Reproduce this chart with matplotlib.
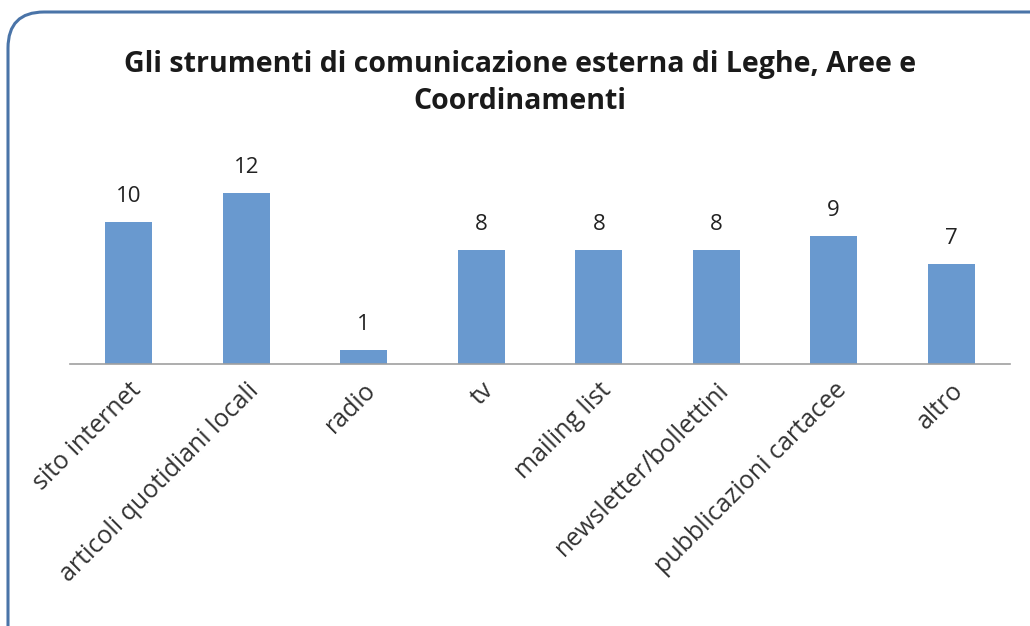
import matplotlib.pyplot as plt
from matplotlib.patches import FancyBboxPatch

categories = ['sito internet', 'articoli quotidiani locali', 'radio', 'tv',
              'mailing list', 'newsletter/bollettini', 'pubblicazioni cartacee', 'altro']
values = [10, 12, 1, 8, 8, 8, 9, 7]

plt.rcParams['font.family'] = ['Open Sans', 'DejaVu Sans']

fig = plt.figure(figsize=(10.3, 6.26), dpi=100)
fig.patch.set_facecolor('white')

# rounded blue frame, cut off at right/bottom
frame = FancyBboxPatch((8 / 1030, -0.1), 1.2, 1 - 12 / 626 + 0.1,
                       boxstyle='round,pad=0,rounding_size=0.035',
                       transform=fig.transFigure, facecolor='none',
                       edgecolor='#4a74a8', linewidth=2.2, mutation_aspect=1030 / 626,
                       zorder=0)
fig.patches.append(frame)

ax = fig.add_axes([70 / 1030, 1 - 364 / 626, 940 / 1030, 200 / 626])
ax.set_facecolor('none')
x = range(len(categories))
bars = ax.bar(x, values, width=0.4, color='#6999cf')
ax.set_xlim(-0.5, len(categories) - 0.5)
ax.set_ylim(0, 200 / 14.25)

for xi, v in zip(x, values):
    ax.text(xi, v + 1.05, str(v), ha='center', va='bottom', fontsize=16, color='#222222')

ax.set_xticks(list(x))
ax.set_xticklabels(categories, rotation=45, ha='right', rotation_mode='anchor',
                   fontsize=18, color='#333333')
ax.tick_params(axis='x', length=0, pad=10)
ax.set_yticks([])
for s in ['top', 'right', 'left']:
    ax.spines[s].set_visible(False)
ax.spines['bottom'].set_color('#a0a0a0')
ax.spines['bottom'].set_linewidth(1.2)

fig.text(520 / 1030, 1 - 83 / 626,
         'Gli strumenti di comunicazione esterna di Leghe, Aree e\nCoordinamenti',
         ha='center', va='center', fontsize=20.5, fontweight='bold', color='#1a1a1a',
         linespacing=1.4)

fig.savefig('out.png', dpi=100)
